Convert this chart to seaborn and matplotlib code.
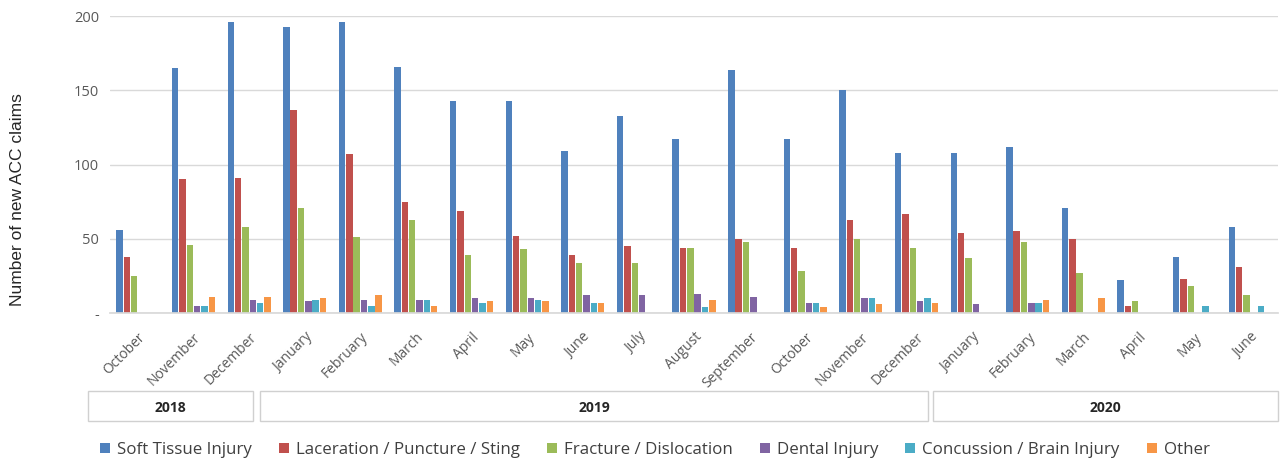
import matplotlib
matplotlib.use("Agg")
import matplotlib.pyplot as plt
from matplotlib.patches import Rectangle
import seaborn as sns
import pandas as pd

# Monthly new ACC claims by injury type, Oct 2018 - Jun 2020
months = ["October", "November", "December", "January", "February", "March",
          "April", "May", "June", "July", "August", "September", "October",
          "November", "December", "January", "February", "March", "April",
          "May", "June"]
years = ["2018"] * 3 + ["2019"] * 12 + ["2020"] * 6

soft_tissue = [56, 165, 196, 193, 196, 166, 143, 143, 109, 133, 117, 164, 117,
               150, 108, 108, 112, 71, 22, 38, 58]
laceration = [38, 90, 91, 137, 107, 75, 69, 52, 39, 45, 44, 50, 44,
              63, 67, 54, 55, 50, 5, 23, 31]
fracture = [25, 46, 58, 71, 51, 63, 39, 43, 34, 34, 44, 48, 28,
            50, 44, 37, 48, 27, 8, 18, 12]
dental = [0, 5, 9, 8, 9, 9, 10, 10, 12, 12, 13, 11, 7,
          10, 8, 6, 7, 0, 0, 0, 0]
concussion = [0, 5, 7, 9, 5, 9, 7, 9, 7, 0, 4, 0, 7,
              10, 10, 0, 7, 0, 0, 5, 5]
other = [0, 11, 11, 10, 12, 5, 8, 8, 7, 0, 9, 0, 4,
         6, 7, 0, 9, 10, 0, 0, 0]

series_names = ["Soft Tissue Injury", "Laceration / Puncture / Sting",
                "Fracture / Dislocation", "Dental Injury",
                "Concussion / Brain Injury", "Other"]
series_values = [soft_tissue, laceration, fracture, dental, concussion, other]
colors = ["#4F81BD", "#C0504D", "#9BBB59", "#8064A2", "#4BACC6", "#F79646"]

period = [f"{y}-{i:02d}" for i, y in enumerate(years)]
rows = []
for name, vals in zip(series_names, series_values):
    for p, v in zip(period, vals):
        rows.append({"period": p, "type": name, "claims": v})
df = pd.DataFrame(rows)

sns.set_theme(style="white")
plt.rcParams["font.family"] = ["Open Sans", "DejaVu Sans"]

fig = plt.figure(figsize=(12.84, 4.61), dpi=100)
ax = fig.add_axes([0.0857, 0.321, 0.9096, 0.644])

sns.barplot(data=df, x="period", y="claims", hue="type", order=period,
            hue_order=series_names, palette=colors, width=0.79, gap=0.12,
            saturation=1, linewidth=0, ax=ax, legend=True)

ax.set_xlim(-0.5, len(period) - 0.5)
ax.set_ylim(0, 200)
ax.set_yticks([0, 50, 100, 150, 200])
ax.set_yticklabels(["-", "50", "100", "150", "200"], color="#595959", fontsize=10.5)
ax.yaxis.grid(True, color="#D9D9D9", linewidth=1)
ax.set_axisbelow(True)
for side in ["top", "right", "left"]:
    ax.spines[side].set_visible(False)
ax.spines["bottom"].set_color("#D9D9D9")
ax.tick_params(axis="both", length=0, pad=8)

ax.set_xticks(range(len(period)))
ax.set_xticklabels(months, rotation=45, ha="right", rotation_mode="anchor",
                   color="#595959", fontsize=10)
ax.tick_params(axis="x", pad=12)
ax.set_xlabel("")
ax.set_ylabel("")

W, H = 1284, 461
fig.text(18 / W, 1 - 200 / H, "Number of new ACC claims", rotation=90,
         ha="center", va="center", fontsize=12.5, color="#262626",
         family=["Liberation Sans", "DejaVu Sans"])

# Year group boxes under the month labels
for label, x0, x1 in [("2018", 88, 253), ("2019", 260, 928), ("2020", 933, 1278)]:
    fig.add_artist(Rectangle((x0 / W, 1 - 421 / H), (x1 - x0) / W, 30 / H,
                             transform=fig.transFigure, fill=False,
                             edgecolor="#D0D0D0", linewidth=1))
    fig.text((x0 + x1) / 2 / W, 1 - 408 / H, label, ha="center", va="center",
             fontsize=10, fontweight="bold", color="#262626")

handles, labels = ax.get_legend_handles_labels()
ax.get_legend().remove()
fig.legend(handles, labels, loc="center", bbox_to_anchor=(0.51, 1 - 450 / H),
           ncol=6, frameon=False, fontsize=12.2, handlelength=0.6,
           handleheight=0.6, handletextpad=0.4, columnspacing=1.6,
           labelcolor="#404040")

fig.savefig("out.png", dpi=100)
